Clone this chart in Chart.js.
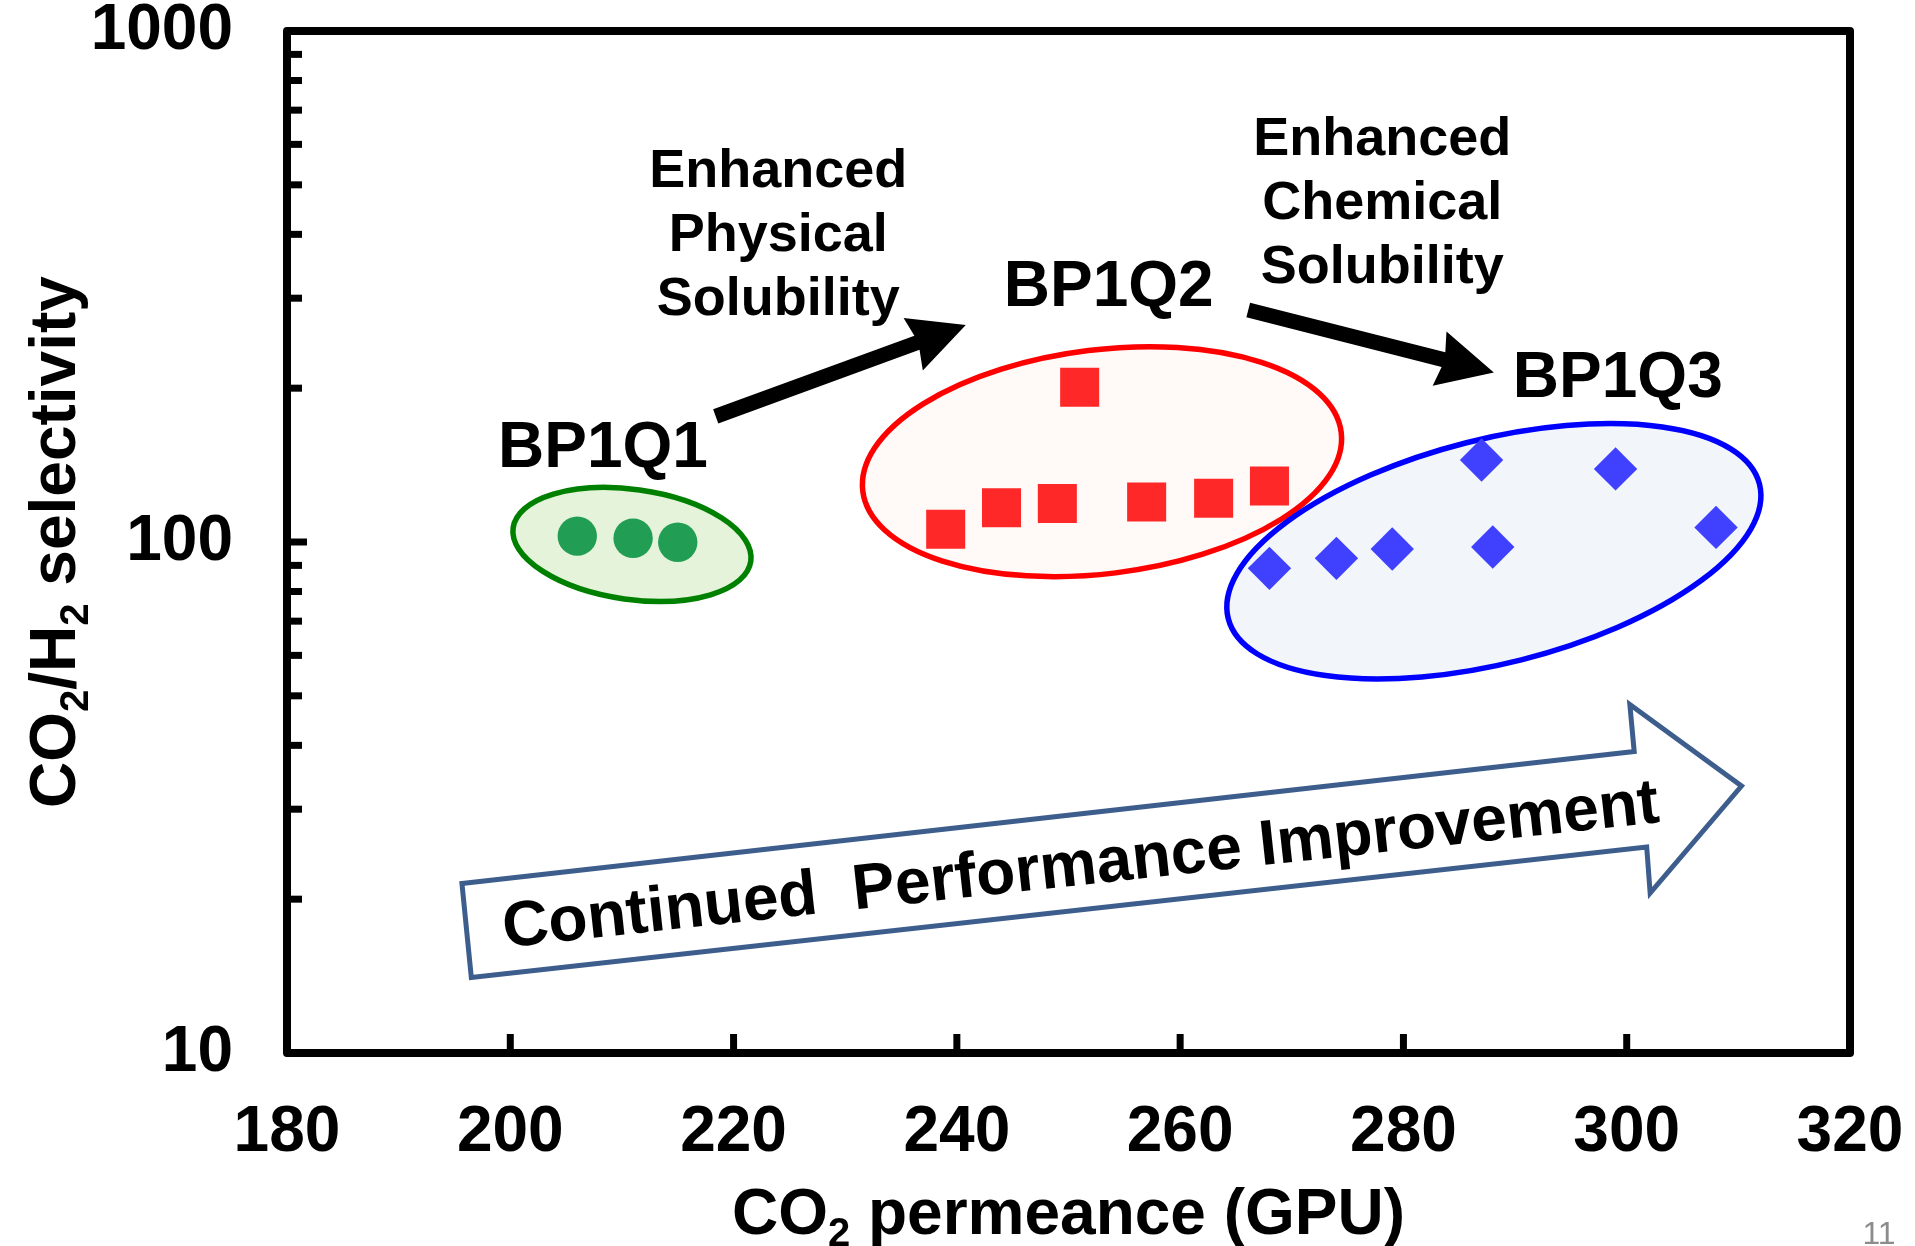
<!DOCTYPE html>
<html>
<head>
<meta charset="utf-8">
<script src="https://cdn.jsdelivr.net/npm/chart.js@4"></script>
<style>
  html, body { margin: 0; padding: 0; background: #fff; }
  #wrap { width: 1915px; height: 1246px; }
</style>
</head>
<body>
<div id="wrap"><canvas id="co2Chart" width="1915" height="1246"></canvas></div>
<script>
// CO2 permeance (GPU) vs CO2/H2 selectivity, three membrane generations
const bp1q1Perm = [206, 211, 215];
const bp1q1Sel = [102.7, 101.7, 99.9];
const bp1q2Perm = [239, 244, 249, 251, 257, 263, 268];
const bp1q2Sel = [105.9, 116.7, 118.9, 200.8, 119.8, 121.8, 128.7];
const bp1q3Perm = [268, 274, 279, 287, 288, 299, 308];
const bp1q3Sel = [88.8, 92.9, 96.9, 144.7, 97.8, 139.0, 106.8];

const xTicks = [180, 200, 220, 240, 260, 280, 300, 320];
const yTicks = [10, 100, 1000];

const FONT = "'Liberation Sans', Arial, Helvetica, sans-serif";

// annotations, anchored in data units (perm, selectivity)
const groupOutlines = [
  { x: 210.9, y: 98.9, rx: 120, ry: 55, angle: 8, stroke: '#008000', fill: '#e4f3d9' },
  { x: 253.0, y: 143.6, rx: 241, ry: 112, angle: -7, stroke: '#ff0000', fill: '#fffaf7' },
  { x: 288.1, y: 95.9, rx: 274, ry: 112, angle: -14.2, stroke: '#0000ff', fill: '#f2f6fa' },
];

const groupLabels = [
  { lines: ['BP1Q1'], x: 208.3, y: 151.5, size: 64 },
  { lines: ['BP1Q2'], x: 253.6, y: 314, size: 64 },
  { lines: ['BP1Q3'], x: 299.2, y: 208, size: 64 },
  { lines: ['Enhanced', 'Physical', 'Solubility'], x: 224.0, y: 397, size: 54 },
  { lines: ['Enhanced', 'Chemical', 'Solubility'], x: 278.1, y: 458, size: 54 },
];

const trendArrows = [
  { from: [218.4, 176.1], to: [240.8, 265.9] },
  { from: [266.1, 284.4], to: [288.1, 214.7] },
];

const improvementArrow = [
  [195.67, 21.46], [300.67, 38.9], [300.28, 48.1], [310.28, 33.3],
  [302.1, 20.56], [301.79, 25.3], [196.51, 14.05],
];
const improvementText = { text: 'Continued  Performance Improvement', x: 251.1, y: 23.1, angle: -6.2, size: 64 };

const toPoints = (xs, ys) => xs.map((x, i) => ({ x: x, y: ys[i] }));

const px = (chart, x, y) => [chart.scales.x.getPixelForValue(x), chart.scales.y.getPixelForValue(y)];

const drawSub = (ctx, parts, size) => {
  // parts: [text, isSubscript]
  const subSize = Math.round(size * 0.62);
  const widths = parts.map(([t, sub]) => {
    ctx.font = `bold ${sub ? subSize : size}px ${FONT}`;
    return ctx.measureText(t).width;
  });
  const total = widths.reduce((a, b) => a + b, 0);
  let x = -total / 2;
  parts.forEach(([t, sub], i) => {
    ctx.font = `bold ${sub ? subSize : size}px ${FONT}`;
    ctx.fillText(t, x, sub ? size * 0.2 : 0);
    x += widths[i];
  });
};

const backgroundShapes = {
  id: 'backgroundShapes',
  beforeDatasetsDraw(chart) {
    const ctx = chart.ctx;
    ctx.save();
    groupOutlines.forEach((e) => {
      const [cx, cy] = px(chart, e.x, e.y);
      ctx.beginPath();
      ctx.ellipse(cx, cy, e.rx, e.ry, (e.angle * Math.PI) / 180, 0, Math.PI * 2);
      ctx.fillStyle = e.fill;
      ctx.fill();
      ctx.lineWidth = 5.5;
      ctx.strokeStyle = e.stroke;
      ctx.stroke();
    });

    // big hollow arrow
    ctx.beginPath();
    improvementArrow.forEach(([x, y], i) => {
      const [X, Y] = px(chart, x, y);
      if (i === 0) ctx.moveTo(X, Y);
      else ctx.lineTo(X, Y);
    });
    ctx.closePath();
    ctx.fillStyle = '#ffffff';
    ctx.fill();
    ctx.lineWidth = 5;
    ctx.lineJoin = 'miter';
    ctx.strokeStyle = '#3d5e8c';
    ctx.stroke();

    const t = improvementText;
    const [tx, ty] = px(chart, t.x, t.y);
    ctx.translate(tx, ty);
    ctx.rotate((t.angle * Math.PI) / 180);
    ctx.font = `bold ${t.size}px ${FONT}`;
    ctx.fillStyle = '#000';
    ctx.textAlign = 'center';
    ctx.textBaseline = 'middle';
    ctx.fillText(t.text, 0, 0);
    ctx.restore();
  },
};

const foregroundMarks = {
  id: 'foregroundMarks',
  afterDatasetsDraw(chart) {
    const ctx = chart.ctx;
    ctx.save();
    ctx.fillStyle = '#000';

    // black trend arrows
    trendArrows.forEach((a) => {
      const [x0, y0] = px(chart, a.from[0], a.from[1]);
      const [x1, y1] = px(chart, a.to[0], a.to[1]);
      const len = Math.hypot(x1 - x0, y1 - y0);
      const ang = Math.atan2(y1 - y0, x1 - x0);
      const headLen = 56, headHalf = 28, shaft = 7.5;
      ctx.save();
      ctx.translate(x0, y0);
      ctx.rotate(ang);
      ctx.beginPath();
      ctx.moveTo(0, -shaft);
      ctx.lineTo(len - headLen + 4, -shaft);
      ctx.lineTo(len - headLen, -headHalf);
      ctx.lineTo(len, 0);
      ctx.lineTo(len - headLen, headHalf);
      ctx.lineTo(len - headLen + 4, shaft);
      ctx.lineTo(0, shaft);
      ctx.closePath();
      ctx.fill();
      ctx.restore();
    });

    // group labels
    ctx.textAlign = 'center';
    ctx.textBaseline = 'middle';
    groupLabels.forEach((l) => {
      const [x, y] = px(chart, l.x, l.y);
      ctx.font = `bold ${l.size}px ${FONT}`;
      const step = l.size * 1.18;
      const start = y - ((l.lines.length - 1) * step) / 2;
      l.lines.forEach((line, i) => ctx.fillText(line, x, start + i * step));
    });
    ctx.restore();
  },
};

const frameAndTitles = {
  id: 'frameAndTitles',
  afterDraw(chart) {
    const ctx = chart.ctx;
    const { left, right, top, bottom } = chart.chartArea;
    const xs = chart.scales.x;
    const ys = chart.scales.y;
    ctx.save();
    ctx.strokeStyle = '#000';

    // inward tick marks
    ctx.lineWidth = 7;
    ctx.lineCap = 'butt';
    xTicks.slice(1, -1).forEach((v) => {
      const X = xs.getPixelForValue(v);
      ctx.beginPath();
      ctx.moveTo(X, bottom);
      ctx.lineTo(X, bottom - 19);
      ctx.stroke();
    });
    [10, 100].forEach((d) => {
      for (let k = 1; k < 10; k++) {
        if (d === 10 && k === 1) continue;
        const Y = ys.getPixelForValue(k * d);
        ctx.beginPath();
        ctx.moveTo(left, Y);
        ctx.lineTo(left + (k === 1 ? 20 : 15), Y);
        ctx.stroke();
      }
    });

    // frame
    ctx.lineWidth = 8;
    ctx.lineJoin = 'round';
    ctx.strokeRect(left, top, right - left, bottom - top);

    // axis titles
    ctx.fillStyle = '#000';
    ctx.textAlign = 'left';
    ctx.textBaseline = 'alphabetic';
    ctx.save();
    ctx.translate((left + right) / 2, chart.height - 12.5);
    drawSub(ctx, [['CO', false], ['2', true], [' permeance (GPU)', false]], 64);
    ctx.restore();

    ctx.save();
    ctx.translate(75, (top + bottom) / 2);
    ctx.rotate(-Math.PI / 2);
    drawSub(ctx, [['CO', false], ['2', true], ['/H', false], ['2', true], [' selectivity', false]], 64);
    ctx.restore();

    // slide number
    ctx.font = `32px ${FONT}`;
    ctx.fillStyle = '#8c8c8c';
    ctx.textAlign = 'center';
    ctx.fillText('11', 1879, 1244);
    ctx.restore();
  },
};

const tickFont = { family: FONT, size: 64, weight: 'bold' };

new Chart(document.getElementById('co2Chart'), {
  type: 'scatter',
  data: {
    datasets: [
      {
        label: 'BP1Q1',
        data: toPoints(bp1q1Perm, bp1q1Sel),
        pointStyle: 'circle',
        pointRadius: 19.7,
        backgroundColor: '#229e54',
        borderWidth: 0,
      },
      {
        label: 'BP1Q2',
        data: toPoints(bp1q2Perm, bp1q2Sel),
        pointStyle: 'rect',
        pointRadius: 27.6,
        backgroundColor: '#ff2828',
        borderWidth: 0,
      },
      {
        label: 'BP1Q3',
        data: toPoints(bp1q3Perm, bp1q3Sel),
        pointStyle: 'rectRot',
        pointRadius: 21.7,
        backgroundColor: '#4040ff',
        borderWidth: 0,
      },
    ],
  },
  options: {
    responsive: false,
    animation: false,
    devicePixelRatio: 1,
    layout: { padding: { top: 31, right: 65, left: 0, bottom: 0 } },
    plugins: {
      legend: { display: false },
      tooltip: { enabled: false },
    },
    scales: {
      x: {
        type: 'linear',
        min: 180,
        max: 320,
        grid: { display: false },
        border: { display: false },
        afterBuildTicks: (s) => { s.ticks = xTicks.map((v) => ({ value: v })); },
        afterFit: (s) => {
          s.height = 193;
          s.paddingLeft = 0;
          s.paddingRight = 0;
        },
        ticks: { color: '#000', font: tickFont, padding: 34, maxRotation: 0, autoSkip: false },
      },
      y: {
        type: 'logarithmic',
        min: 10,
        max: 1000,
        grid: { display: false },
        border: { display: false },
        afterBuildTicks: (s) => { s.ticks = yTicks.map((v) => ({ value: v })); },
        afterFit: (s) => {
          s.width = 287;
          s.paddingTop = 0;
          s.paddingBottom = 0;
        },
        ticks: {
          color: '#000',
          font: tickFont,
          padding: 46,
          autoSkip: false,
          callback: (v) => String(v),
        },
      },
    },
  },
  plugins: [backgroundShapes, foregroundMarks, frameAndTitles],
});
</script>
</body>
</html>
